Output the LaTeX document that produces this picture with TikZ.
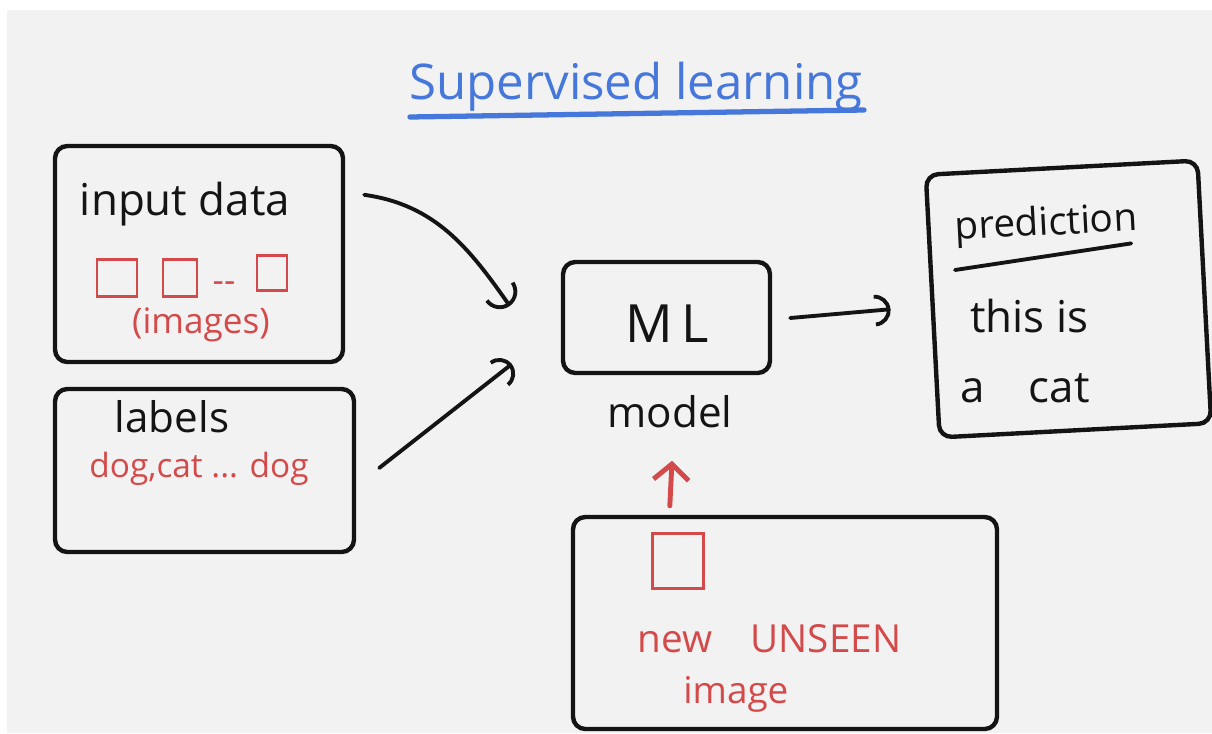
\documentclass[tikz,border=0pt]{standalone}
\usepackage{fontspec}
\setmainfont{Open Sans}
\usetikzlibrary{arrows.meta,calc}
\definecolor{ink}{HTML}{141414}
\definecolor{redink}{HTML}{D44A4A}
\definecolor{blueink}{HTML}{4677DA}
\definecolor{paper}{HTML}{F2F2F2}

\begin{document}
\begin{tikzpicture}[x=0.02cm,y=-0.02cm,
  box/.style n args={2}{draw=ink,line width=2.5pt,rounded corners=7pt,inner sep=0,
    minimum width=#1*0.02cm,minimum height=#2*0.02cm},
  pic/.style n args={2}{draw=redink,line width=1.7pt,inner sep=0,
    minimum width=#1*0.02cm,minimum height=#2*0.02cm},
  txt/.style={inner sep=0,text=ink,font=\fontsize{#1}{#1}\selectfont},
  rtxt/.style={inner sep=0,text=redink,font=\fontsize{#1}{#1}\selectfont},
  conn/.style={draw=ink,line width=2.2pt,line cap=round},
  rconn/.style={draw=redink,line width=2.8pt,line cap=round}]

% paper
\useasboundingbox (0,0) rectangle (1212,733);
\fill[white] (0,0) rectangle (1212,733);
\fill[paper] (7,10) rectangle (1212,733);

% title
\node[inner sep=0,text=blueink,font=\fontsize{28}{28}\selectfont,anchor=base] (title) at (636,100) {Supervised learning};
\draw[blueink,line width=3pt,line cap=round] ([shift={(1,17)}]title.base west) -- ([shift={(1,10)}]title.base east);

% input data
\node[box={288}{216}] (inbox) at (199,254) {};
\node[txt=25,anchor=base] (intxt) at (185,215) {input data};
\node[pic={40}{37}] (sq1) at (117,278) {};
\node[pic={34}{37}] (sq2) at (180,278) {};
\node[rtxt=20,anchor=base] (dots) at (224,292) {-{}-};
\node[pic={30}{35}] (sq3) at (272,273) {};
\node[rtxt=20,anchor=base] (imgs) at (201,333) {(images)};

% labels
\node[box={299}{163}] (lblbox) at (204.5,470.5) {};
\node[txt=24,anchor=base] (lbltxt) at (172,432) {labels};
\node[rtxt=19,anchor=base] (lblvals) at (199,477) {dog,cat ... dog};

% model
\node[box={207}{111}] (ml) at (666.5,317.5) {};
\node[txt=30,anchor=base] (mltxt) at (667,342) {M\,L};
\node[txt=24,anchor=base] (model) at (670,427) {model};

% unseen image
\node[box={424}{212}] (unseen) at (785,623) {};
\node[pic={51}{55}] (sq4) at (677.5,560.5) {};
\node[rtxt=22,anchor=base west] (newtxt) at (637,652) {new\quad UNSEEN};
\node[rtxt=21,anchor=base west] (imgtxt) at (683,703) {image};

% prediction
\node[box={272}{263},rotate=3] (pred) at (1068.5,299) {};
\node[txt=22,anchor=base west,rotate=3] (ptitle) at (955,240) {prediction};
\draw[ink,line width=2.2pt,line cap=round] ([shift={(0,30)}]ptitle.base west) -- ([shift={(-7,13)}]ptitle.base east);
\node[txt=25,anchor=base west] (p1) at (970,332) {this is};
\node[txt=25,anchor=base west] (p2) at (960,402) {a\quad cat};

% connectors
\draw[conn,-{Arc Barb[length=10pt]}] ([shift={(19,51)}]inbox.north east) to[out=-8,in=125] ([shift={(-51,-11.5)}]ml.west);
\draw[conn,-{Arc Barb[length=9pt]}] ([shift={(23,-2.5)}]lblbox.east) -- ([shift={(-49,46.5)}]ml.west);
\draw[conn,-{Arc Barb[length=9pt]}] ([shift={(18,0.5)}]ml.east) -- ([shift={(-40,3)}]pred.west);
\draw[rconn,-{Straight Barb[length=9pt,width=20pt]}] ([shift={(99,-9)}]unseen.north west) -- ([shift={(2,33)}]model.south);
\end{tikzpicture}
\end{document}
